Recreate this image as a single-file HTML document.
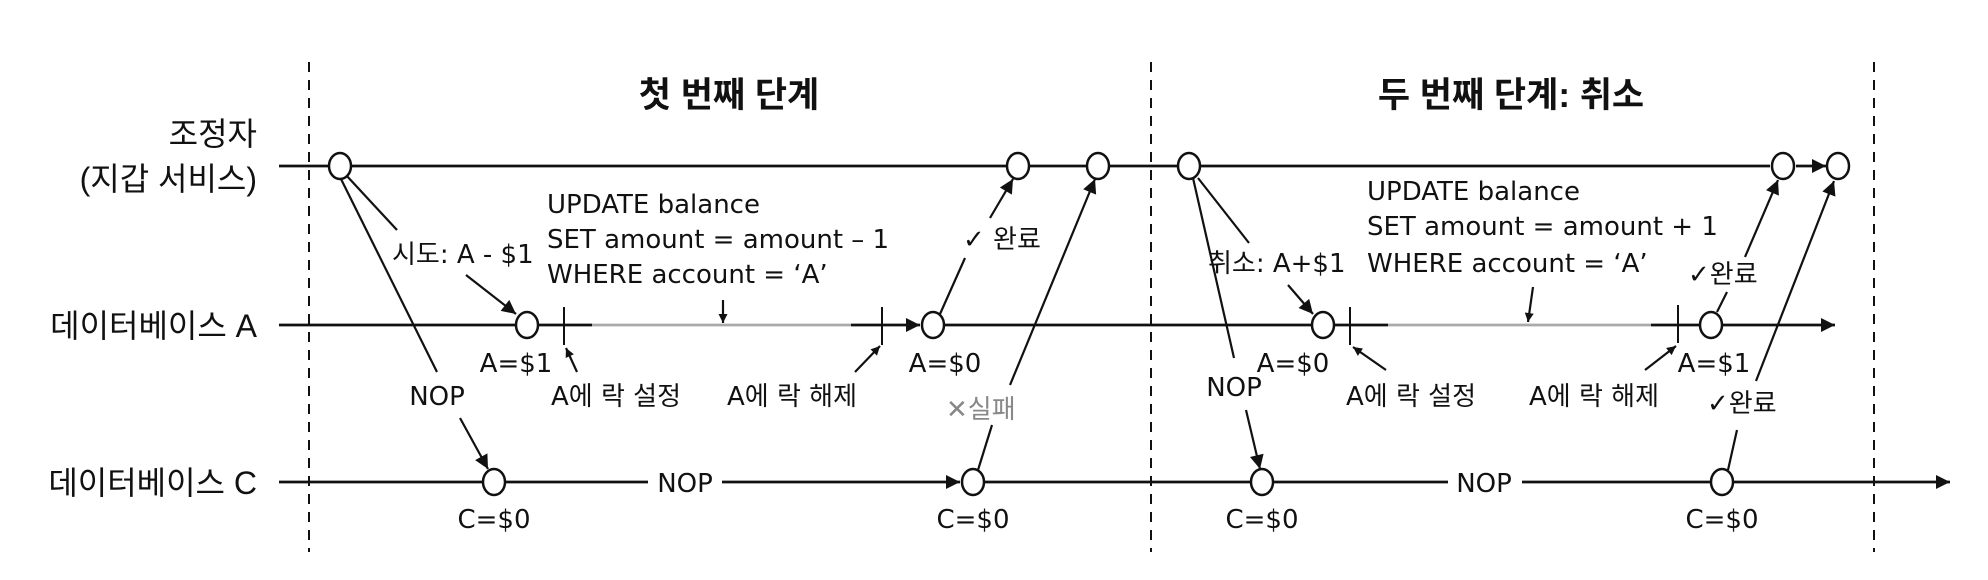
<!DOCTYPE html>
<html><head><meta charset="utf-8"><style>
html,body{margin:0;padding:0;background:#fff;}
svg{display:block;}
text{font-family:"DejaVu Sans","Noto Sans CJK KR",sans-serif;font-size:26px;fill:#111;}
.b{font-family:"Liberation Sans","Noto Sans CJK KR",sans-serif;font-weight:bold;font-size:35px;}
.l{font-family:"Liberation Sans","Noto Sans CJK KR",sans-serif;font-size:32px;}
</style></head><body>
<svg width="1988" height="580" viewBox="0 0 1988 580" xmlns="http://www.w3.org/2000/svg">
<defs>
<marker id="A" viewBox="0 0 10 10" refX="10" refY="5" markerWidth="16" markerHeight="14" orient="auto" markerUnits="userSpaceOnUse"><path d="M0,0 L10,5 L0,10 z" fill="#111"/></marker>
<marker id="s" viewBox="0 0 10 10" refX="10" refY="5" markerWidth="10" markerHeight="9" orient="auto" markerUnits="userSpaceOnUse"><path d="M0,0 L10,5 L0,10 z" fill="#111"/></marker>
</defs>
<g stroke="#111" stroke-width="2" stroke-dasharray="10,8">
<line x1="309" y1="62" x2="309" y2="552"/>
<line x1="1151" y1="62" x2="1151" y2="552"/>
<line x1="1874" y1="62" x2="1874" y2="552"/>
</g>
<text class="b" x="729" y="107" text-anchor="middle">첫 번째 단계</text>
<text class="b" x="1511" y="107" text-anchor="middle">두 번째 단계: 취소</text>
<text class="l" x="257" y="145" text-anchor="end">조정자</text>
<text class="l" x="257" y="190" text-anchor="end">(지갑 서비스)</text>
<text class="l" x="257" y="337" text-anchor="end">데이터베이스 A</text>
<text class="l" x="257" y="494" text-anchor="end">데이터베이스 C</text>
<g stroke="#111" stroke-width="2.8" fill="none">
<line x1="279" y1="166" x2="1770" y2="166"/>
<line x1="1796" y1="166" x2="1826" y2="166" marker-end="url(#A)"/>
<line x1="279" y1="325" x2="592" y2="325"/>
<line x1="851" y1="325" x2="920" y2="325" marker-end="url(#A)"/>
<line x1="945" y1="325" x2="1388" y2="325"/>
<line x1="1651" y1="325" x2="1835" y2="325" marker-end="url(#A)"/>
<line x1="279" y1="482" x2="648" y2="482"/>
<line x1="722" y1="482" x2="960" y2="482" marker-end="url(#A)"/>
<line x1="985" y1="482" x2="1448" y2="482"/>
<line x1="1522" y1="482" x2="1950" y2="482" marker-end="url(#A)"/>
</g>
<g stroke="#aaa" stroke-width="2.8"><line x1="592" y1="325" x2="851" y2="325"/><line x1="1388" y1="325" x2="1651" y2="325"/></g>
<g stroke="#111" stroke-width="2">
<line x1="564" y1="307" x2="564" y2="345"/><line x1="882" y1="307" x2="882" y2="345"/>
<line x1="1350" y1="307" x2="1350" y2="345"/><line x1="1678" y1="305" x2="1678" y2="343"/>
</g>
<g stroke="#111" stroke-width="2.2" fill="none">
<line x1="346" y1="175" x2="397" y2="230"/>
<line x1="466" y1="275" x2="516" y2="314" marker-end="url(#A)"/>
<line x1="340" y1="177" x2="437" y2="372"/>
<line x1="460" y1="418" x2="488" y2="469" marker-end="url(#A)"/>
<line x1="577" y1="372" x2="566" y2="348" marker-end="url(#s)"/>
<line x1="855" y1="372" x2="880" y2="346" marker-end="url(#s)"/>
<line x1="723" y1="300" x2="723" y2="323" marker-end="url(#s)"/>
<line x1="940" y1="314" x2="965" y2="258"/>
<line x1="990" y1="218" x2="1013" y2="179" marker-end="url(#A)"/>
<line x1="978" y1="470" x2="992" y2="425"/>
<line x1="1010" y1="385" x2="1095" y2="179" marker-end="url(#A)"/>
<line x1="1198" y1="178" x2="1249" y2="243"/>
<line x1="1288" y1="285" x2="1313" y2="314" marker-end="url(#A)"/>
<line x1="1193" y1="178" x2="1234" y2="358"/>
<line x1="1246" y1="410" x2="1260" y2="469" marker-end="url(#A)"/>
<line x1="1386" y1="370" x2="1353" y2="347" marker-end="url(#s)"/>
<line x1="1645" y1="370" x2="1676" y2="346" marker-end="url(#s)"/>
<line x1="1533" y1="287" x2="1528" y2="322" marker-end="url(#s)"/>
<line x1="1717" y1="312" x2="1727" y2="292"/>
<line x1="1745" y1="257" x2="1778" y2="180" marker-end="url(#A)"/>
<line x1="1728" y1="470" x2="1737" y2="430"/>
<line x1="1756" y1="381" x2="1834" y2="181" marker-end="url(#A)"/>
</g>
<g fill="#fff" stroke="#111" stroke-width="2.5">
<ellipse cx="340" cy="166" rx="11" ry="13"/><ellipse cx="1018" cy="166" rx="11" ry="13"/><ellipse cx="1098" cy="166" rx="11" ry="13"/>
<ellipse cx="1189" cy="166" rx="11" ry="13"/><ellipse cx="1783" cy="166" rx="11" ry="13"/><ellipse cx="1838" cy="166" rx="11" ry="13"/>
<ellipse cx="527" cy="325" rx="11" ry="13"/><ellipse cx="933" cy="325" rx="11" ry="13"/><ellipse cx="1323" cy="325" rx="11" ry="13"/><ellipse cx="1711" cy="325" rx="11" ry="13"/>
<ellipse cx="494" cy="482" rx="11" ry="13"/><ellipse cx="973" cy="482" rx="11" ry="13"/><ellipse cx="1262" cy="482" rx="11" ry="13"/><ellipse cx="1722" cy="482" rx="11" ry="13"/>
</g>
<text x="392" y="263">시도: A - $1</text>
<text x="547" y="213">UPDATE balance</text>
<text x="547" y="248">SET amount = amount – 1</text>
<text x="547" y="283">WHERE account = ‘A’</text>
<text x="516" y="372" text-anchor="middle">A=$1</text>
<text x="437" y="405" text-anchor="middle">NOP</text>
<text x="616" y="405" text-anchor="middle">A에 락 설정</text>
<text x="792" y="405" text-anchor="middle">A에 락 해제</text>
<text x="945" y="372" text-anchor="middle">A=$0</text>
<text x="963" y="248">✓ 완료</text>
<text x="946" y="418" style="fill:#888">✕실패</text>
<text x="685" y="492" text-anchor="middle">NOP</text>
<text x="494" y="528" text-anchor="middle">C=$0</text>
<text x="973" y="528" text-anchor="middle">C=$0</text>
<text x="1208" y="272">취소: A+$1</text>
<text x="1367" y="200">UPDATE balance</text>
<text x="1367" y="235">SET amount = amount + 1</text>
<text x="1367" y="272">WHERE account = ‘A’</text>
<text x="1293" y="372" text-anchor="middle">A=$0</text>
<text x="1234" y="396" text-anchor="middle">NOP</text>
<text x="1411" y="405" text-anchor="middle">A에 락 설정</text>
<text x="1594" y="405" text-anchor="middle">A에 락 해제</text>
<text x="1714" y="372" text-anchor="middle">A=$1</text>
<text x="1688" y="283">✓완료</text>
<text x="1707" y="412">✓완료</text>
<text x="1484" y="492" text-anchor="middle">NOP</text>
<text x="1262" y="528" text-anchor="middle">C=$0</text>
<text x="1722" y="528" text-anchor="middle">C=$0</text>
</svg>
</body></html>
